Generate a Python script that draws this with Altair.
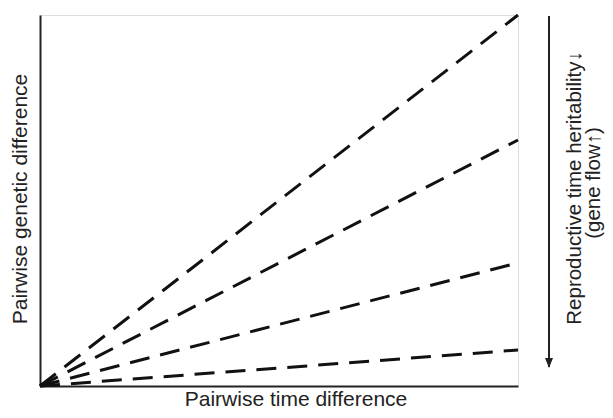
import altair as alt
import pandas as pd

# Data (relative units, y axis 0..1)
series = ["a", "b", "c", "d"]
end_x = [1.0, 1.0, 1.0, 1.0]
end_y = [1.0, 0.663, 0.332, 0.097]

x_title = "Pairwise time difference"
y_title = "Pairwise genetic difference"
right_line1 = "Reproductive time heritability\u2193"
right_line2 = "(gene flow\u2191)"

rows = []
for s, ex, ey in zip(series, end_x, end_y):
    rows.append({"s": s, "x": 0.0, "y": 0.0})
    rows.append({"s": s, "x": ex, "y": ey})
lines_df = pd.DataFrame(rows)

FONT = "Liberation Sans"
TXT = "#222222"
W, H = 478, 371

xs = alt.Scale(domain=[0, 1], nice=False, zero=False)
ys = alt.Scale(domain=[0, 1], nice=False, zero=False)

lines = alt.Chart(lines_df).mark_line(
    color="#111111", strokeWidth=3, strokeDash=[20, 11], strokeCap="butt"
).encode(
    x=alt.X("x:Q", scale=xs, axis=alt.Axis(title=None, labels=False, ticks=False, grid=False,
                                             domainColor="#222222", domainWidth=2)),
    y=alt.Y("y:Q", scale=ys, axis=alt.Axis(title=None, labels=False, ticks=False, grid=False,
                                             domainColor="#222222", domainWidth=2)),
    detail="s:N",
)

one = pd.DataFrame({"k": [0]})

arrow_shaft = alt.Chart(one).mark_rule(color="#222222", strokeWidth=2).encode(
    x=alt.value(509), y=alt.value(1), y2=alt.value(352)
)
arrow_head = alt.Chart(one).mark_point(
    shape="M-0.8,-1L0.8,-1L0,1Z", filled=True, color="#222222", opacity=1, size=100, strokeWidth=0
).encode(x=alt.value(509), y=alt.value(348))

def label(text, x, y, angle, size=21):
    return alt.Chart(pd.DataFrame({"t": [text]})).mark_text(
        font=FONT, fontSize=size, color=TXT, angle=angle, align="center", baseline="middle"
    ).encode(x=alt.value(x), y=alt.value(y), text="t:N")

chart = alt.layer(
    lines,
    arrow_shaft,
    arrow_head,
    label(x_title, 256, 385, 0),
    label(y_title, -19, 184, 270),
    label(right_line1, 535, 173, 270, 20.5),
    label(right_line2, 554, 168, 270, 20.5),
).properties(
    width=W, height=H,
    autosize=alt.AutoSizeParams(type="none"),
    padding={"left": 32, "top": 7, "right": 87, "bottom": 24},
).configure_view(stroke=None).configure(background="white")

chart.save("out.html", embed_options={"renderer": "svg", "actions": False})
